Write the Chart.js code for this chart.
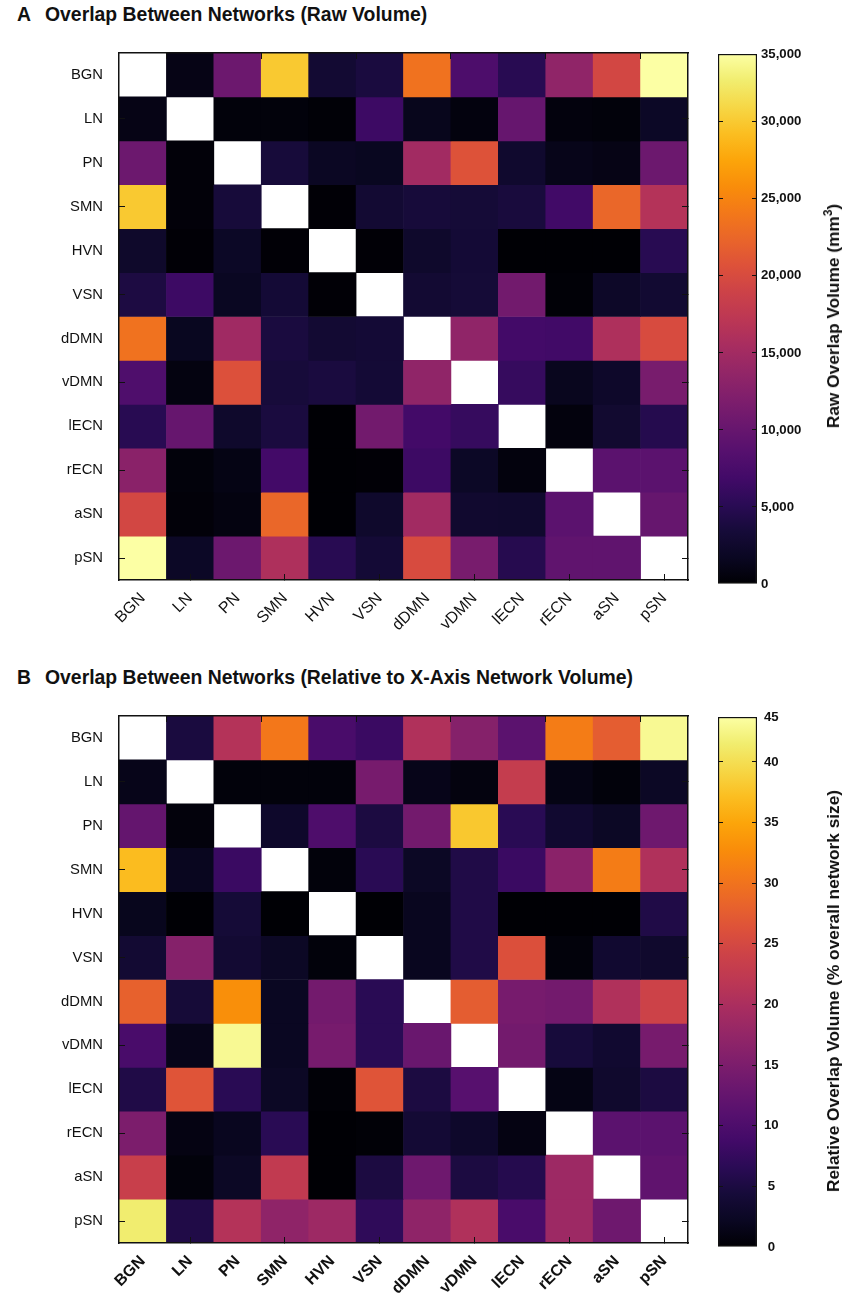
<!DOCTYPE html>
<html>
<head>
<meta charset="utf-8">
<title>Overlap Between Networks</title>
<script src="https://cdn.jsdelivr.net/npm/chart.js@4/dist/chart.umd.min.js"></script>
<style>
  html, body { margin: 0; padding: 0; background: #fff; }
  body { position: relative; width: 849px; height: 1300px; overflow: hidden; font-family: "Liberation Sans", Arial, sans-serif; color: #111; }
  canvas { position: absolute; }
  .letter, .title { position: absolute; font-weight: bold; font-size: 19.4px; white-space: nowrap; line-height: 22px; }
  .axisTitle { position: absolute; font-weight: bold; font-size: 17.3px; white-space: nowrap; line-height: 20px; transform: translate(-50%, -50%) rotate(-90deg); }
  .axisTitle sup { font-size: 12px; line-height: 0; }
</style>
</head>
<body>
<div class="letter" style="left:17px;top:3px">A</div>
<div class="title" style="left:45px;top:3px">Overlap Between Networks (Raw Volume)</div>
<canvas id="heatA" width="700" height="620" style="left:0;top:17px"></canvas>
<canvas id="barA" width="149" height="620" style="left:700px;top:17px"></canvas>
<div class="axisTitle" style="left:833px;top:316px">Raw Overlap Volume (mm<sup>3</sup>)</div>

<div class="letter" style="left:17px;top:666px">B</div>
<div class="title" style="left:45px;top:666px">Overlap Between Networks (Relative to X-Axis Network Volume)</div>
<canvas id="heatB" width="700" height="620" style="left:0;top:680px"></canvas>
<canvas id="barB" width="149" height="620" style="left:700px;top:680px"></canvas>
<div class="axisTitle" style="left:833px;top:991px">Relative Overlap Volume (% overall network size)</div>

<script>
const networks = ["BGN", "LN", "PN", "SMN", "HVN", "VSN", "dDMN", "vDMN", "lECN", "rECN", "aSN", "pSN"];

// Raw overlap in mm3, rows top to bottom, columns left to right. null = diagonal
const rawOverlap = [
  [null, 1000, 10500, 30000, 3000, 3800, 23500, 7800, 5000, 13500, 19500, 34400],
  [1000, null, 400, 400, 200, 6500, 1400, 600, 10000, 500, 400, 2000],
  [10500, 300, null, 3500, 1800, 1600, 15000, 20700, 2600, 1200, 1000, 10500],
  [30000, 300, 3500, null, 100, 3000, 3500, 3300, 3700, 6800, 22500, 16500],
  [2400, 100, 2000, 100, null, 100, 2500, 3200, 50, 50, 50, 5000],
  [4000, 6500, 1700, 3200, 100, null, 3000, 3300, 11000, 200, 2200, 2900],
  [23500, 1600, 14800, 3800, 3000, 3200, null, 13500, 7000, 6800, 16000, 20000],
  [8000, 700, 20500, 3500, 3800, 3200, 13500, null, 6000, 1500, 2300, 11500],
  [5000, 10000, 2500, 3800, 50, 11000, 7000, 6000, null, 500, 2800, 4700],
  [13000, 400, 900, 7000, 50, 100, 6500, 2000, 500, null, 9000, 9000],
  [19500, 300, 700, 22500, 50, 2500, 15000, 2700, 2600, 9000, null, 10000],
  [34400, 2000, 10500, 16000, 5000, 3200, 20000, 11500, 4800, 9500, 9500, null]
];

// Overlap in % of the x-axis network volume
const relOverlap = [
  [null, 4.8, 21, 30.5, 9.5, 8, 20.5, 16, 11.5, 31, 27.5, 43],
  [1.5, null, 0.5, 0.5, 0.5, 14.5, 1.5, 0.8, 23, 1.2, 0.5, 2.5],
  [12.5, 0.6, null, 3, 10, 5, 14, 38, 6.5, 3.5, 2.5, 13.5],
  [37, 2, 8, null, 0.5, 6.5, 2.5, 5.5, 8, 16.5, 31, 20.5],
  [1.8, 0.1, 4.2, 0.1, null, 0.1, 2, 5.5, 0.1, 0.1, 0.1, 5.5],
  [3.8, 16, 3.8, 2.5, 0.5, null, 2, 5.5, 26, 0.5, 3.5, 3.2],
  [28, 4.3, 33, 2.2, 14, 6.5, null, 27.5, 14.5, 14, 20.5, 24],
  [9.5, 1.5, 43, 2.2, 14.5, 6.5, 13, null, 14, 4.5, 3.5, 14.5],
  [5.5, 26.5, 6.5, 2.5, 0.2, 26.5, 5, 11, null, 1.2, 3.2, 5],
  [15, 1, 2, 6.5, 0.1, 0.2, 4, 3, 1, null, 11.5, 11.5],
  [23.5, 0.5, 2.5, 22.5, 0.1, 5, 13.5, 5, 6, 18.5, null, 12],
  [41.5, 5.5, 21, 17, 18.5, 7, 17, 20.5, 9.5, 18.5, 13.5, null]
];

// Colour bar scales: the bars stop a little short of their top label
const rawBarMax = 34400;
const rawBarTicks = [0, 5000, 10000, 15000, 20000, 25000, 30000, rawBarMax];
const rawBarLabels = ["0", "5,000", "10,000", "15,000", "20,000", "25,000", "30,000", "35,000"];
const relBarMax = 43.7;
const relBarTicks = [0, 5, 10, 15, 20, 25, 30, 35, 40, relBarMax];
const relBarLabels = ["0", "5", "10", "15", "20", "25", "30", "35", "40", "45"];

const infernoStops = ["#000004", "#0a0722", "#160b39", "#2a0b55", "#420a68", "#56106e", "#6a176e", "#7f1e6c", "#932667", "#a82d60", "#bc3754",
  "#cc4248", "#dd513a", "#e9652a", "#f37819", "#f98d0a", "#fca50a", "#fbbe21", "#f6d746", "#f1ed6f", "#fcffa4"];

const fontFamily = '"Liberation Sans", Arial, sans-serif';
const frameColor = "#111";

function hexToRgb(hex) {
  return [1, 3, 5].map(i => parseInt(hex.substr(i, 2), 16));
}

function infernoColor(t) {
  const pos = Math.min(Math.max(t, 0), 1) * (infernoStops.length - 1);
  const i = Math.min(Math.floor(pos), infernoStops.length - 2);
  const a = hexToRgb(infernoStops[i]);
  const b = hexToRgb(infernoStops[i + 1]);
  const c = a.map((v, k) => Math.round(v + (b[k] - v) * (pos - i)));
  return `rgb(${c[0]},${c[1]},${c[2]})`;
}

// Only every second row and column carries a tick mark in the figure
function evenTick(context) {
  return context.index % 2 === 1 ? frameColor : "rgba(0,0,0,0)";
}

function tickOnlyAxis(position, size) {
  return {
    type: "category",
    labels: networks,
    position: position,
    offset: true,
    grid: { drawOnChartArea: false, tickLength: -6, tickColor: evenTick, tickWidth: 1, z: 1 },
    border: { display: true, color: frameColor, width: 1.5, z: 1 },
    ticks: { display: false, autoSkip: false },
    afterFit: function(scale) {
      if (scale.isHorizontal()) scale.height = size; else scale.width = size;
    }
  };
}

function crearHeatmap(id, matrix, maxValue, boldX) {
  const datasets = matrix.map((row, r) => ({
    label: networks[r],
    data: row.map(v => (v === null ? null : [r, r + 1])),
    backgroundColor: row.map(v => (v === null ? "#fff" : infernoColor(v / maxValue))),
    borderWidth: 0,
    barPercentage: 1,
    categoryPercentage: 1,
    grouped: false
  }));

  const xAxis = tickOnlyAxis("bottom", 57);
  xAxis.grid.offset = false;
  xAxis.ticks = {
    display: true,
    autoSkip: false,
    minRotation: 45,
    maxRotation: 45,
    padding: 15,
    color: "#111",
    font: { family: fontFamily, size: 16, weight: boldX ? "bold" : "normal" }
  };

  const leftAxis = tickOnlyAxis("left", 119);
  leftAxis.ticks = {
    display: true,
    autoSkip: false,
    padding: 22,
    color: "#111",
    font: { family: fontFamily, size: 14.8 }
  };

  new Chart(document.getElementById(id), {
    type: "bar",
    data: { labels: networks, datasets: datasets },
    options: {
      responsive: false,
      animation: false,
      layout: { padding: 0 },
      plugins: { legend: { display: false }, title: { display: false }, tooltip: { enabled: false } },
      scales: {
        x: xAxis,
        xTop: tickOnlyAxis("top", 36),
        y: { display: false, type: "linear", reverse: true, min: 0, max: matrix.length },
        yLeft: leftAxis,
        yRight: tickOnlyAxis("right", 12)
      }
    }
  });
}

function barGradient(context) {
  const area = context.chart.chartArea;
  if (!area) return infernoStops[0];
  const g = context.chart.ctx.createLinearGradient(0, area.bottom, 0, area.top);
  infernoStops.forEach((c, i) => g.addColorStop(i / (infernoStops.length - 1), c));
  return g;
}

function crearBarra(id, maxValue, tickValues, tickLabels, labelAlign, labelPadding) {
  const innerTick = context => {
    return context.index === 0 || context.index === tickValues.length - 1 ? "rgba(0,0,0,0)" : frameColor;
  };
  const setTicks = scale => {
    scale.ticks = tickValues.map(v => ({ value: v }));
  };

  new Chart(document.getElementById(id), {
    type: "bar",
    data: {
      labels: ["scale"],
      datasets: [{
        data: [[0, maxValue]],
        yAxisID: "y",
        backgroundColor: barGradient,
        borderColor: frameColor,
        borderWidth: 1.5,
        borderSkipped: false,
        barPercentage: 1,
        categoryPercentage: 1
      }]
    },
    options: {
      responsive: false,
      animation: false,
      layout: { padding: { top: 37, bottom: 53 } },
      plugins: { legend: { display: false }, title: { display: false }, tooltip: { enabled: false } },
      scales: {
        x: { display: false },
        y: {
          type: "linear",
          position: "right",
          min: 0,
          max: maxValue,
          afterBuildTicks: setTicks,
          afterFit: scale => { scale.width = 92; },
          grid: { drawOnChartArea: false, tickLength: -5, tickColor: innerTick, z: 1 },
          border: { display: false },
          ticks: {
            autoSkip: false,
            padding: labelPadding,
            crossAlign: labelAlign,
            color: "#111",
            font: { family: fontFamily, size: 13.2, weight: "bold" },
            callback: (value, index) => tickLabels[index]
          }
        },
        yInner: {
          type: "linear",
          position: "left",
          min: 0,
          max: maxValue,
          afterBuildTicks: setTicks,
          afterFit: scale => { scale.width = 18; },
          grid: { drawOnChartArea: false, tickLength: -5, tickColor: innerTick, z: 1 },
          border: { display: false },
          ticks: { display: false }
        }
      }
    }
  });
}

crearHeatmap("heatA", rawOverlap, rawBarMax, false);
crearBarra("barA", rawBarMax, rawBarTicks, rawBarLabels, "near", 9);
crearHeatmap("heatB", relOverlap, relBarMax, true);
crearBarra("barB", relBarMax, relBarTicks, relBarLabels, "center", 12);
</script>
</body>
</html>
